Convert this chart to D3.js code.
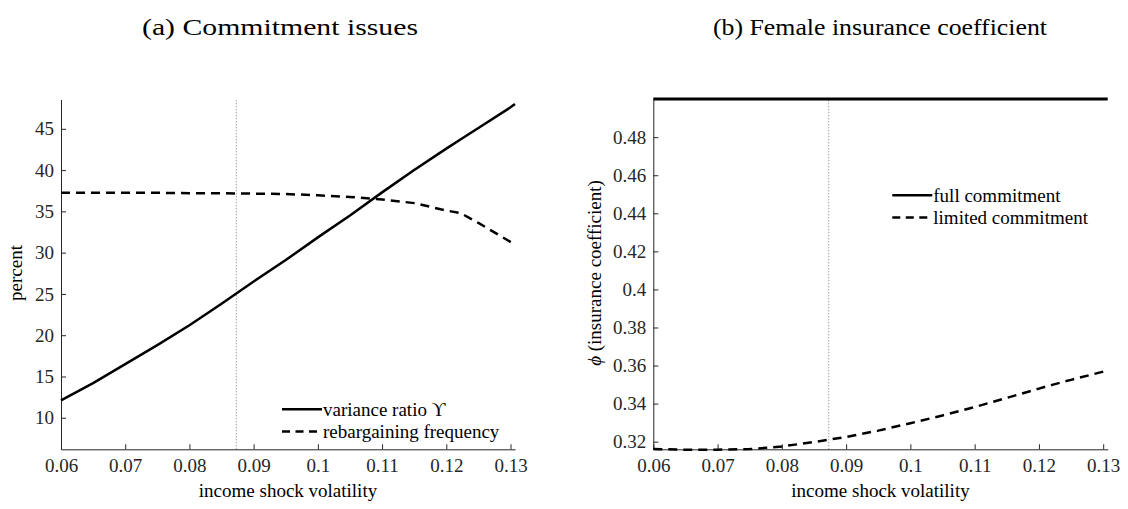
<!DOCTYPE html>
<html><head><meta charset="utf-8">
<script src="https://cdn.jsdelivr.net/npm/d3@7/dist/d3.min.js"></script>
<style>
body{margin:0;background:#fff;}
svg text{font-family:'Liberation Serif','Times New Roman',serif;}
</style></head>
<body><svg id="c" width="1128" height="509"></svg>
<script>
// ---- data ----
const xVol = [0.06,0.065,0.07,0.075,0.08,0.085,0.09,0.095,0.1,0.105,0.11,0.115,0.12,0.1222,0.125,0.13,0.1307];
const varianceRatio = [12.1,14.2,16.5,18.8,21.2,23.8,26.5,29.1,31.85,34.5,37.3,40.0,42.6,43.7,45.1,47.6,48.0];
const rebargFreq = [37.25,37.25,37.25,37.25,37.2,37.2,37.15,37.1,36.95,36.75,36.45,36.0,35.1,34.8,33.6,31.3,31.0];
const fullCommit = [0.5,0.5,0.5,0.5,0.5,0.5,0.5,0.5,0.5,0.5,0.5,0.5,0.5,0.5,0.5,0.5,0.5];
const limitedCommit = [0.3162,0.3158,0.3158,0.3161,0.3175,0.3198,0.3225,0.3258,0.3297,0.3338,0.3382,0.343,0.3479,0.35,0.3525,0.3568,0.3573];
const xTicks = [0.06,0.07,0.08,0.09,0.1,0.11,0.12,0.13];
const xTickLabels = ["0.06","0.07","0.08","0.09","0.1","0.11","0.12","0.13"];
const yTicksA = [10,15,20,25,30,35,40,45];
const yTicksB = [0.32,0.34,0.36,0.38,0.4,0.42,0.44,0.46,0.48];
const yTickLabelsB = ["0.32","0.34","0.36","0.38","0.4","0.42","0.44","0.46","0.48"];
const baselineVol = 0.0873;
const titles = ["(a) Commitment issues","(b) Female insurance coefficient"];
const legendA = ["variance ratio \u03D2","rebargaining frequency"];
const legendB = ["full commitment","limited commitment"];

const svg = d3.select("#c");
const axisCol = "#262626";
const fs = 19;
const FF = "'Liberation Serif','Times New Roman',serif";

function panel(cfg){
  const g = svg.append("g");
  const x = d3.scaleLinear().domain([0.06,0.1307]).range([cfg.x0,cfg.x1]);
  const y = d3.scaleLinear().domain(cfg.yDom).range([449.3,99.5]);
  // dotted reference
  g.append("line").attr("x1",x(baselineVol)).attr("x2",x(baselineVol))
    .attr("y1",y.range()[0]).attr("y2",y.range()[1])
    .attr("stroke","#555").attr("stroke-width",0.8).attr("stroke-dasharray","1,2");
  // axes
  const xa = d3.axisBottom(x).tickValues(xTicks).tickFormat((d,i)=>xTickLabels[i]).tickSizeInner(-5).tickSizeOuter(0).tickPadding(14);
  const ya = d3.axisLeft(y).tickValues(cfg.yTicks).tickFormat((d,i)=>cfg.yLabels[i]).tickSizeInner(-5).tickSizeOuter(0).tickPadding(7);
  const gx = g.append("g").attr("transform",`translate(0,${y.range()[0]})`).call(xa);
  const gy = g.append("g").attr("transform",`translate(${cfg.x0},0)`).call(ya);
  [gx,gy].forEach(a=>{
    a.attr("font-family",FF).attr("font-size",fs);
    a.select(".domain").attr("stroke",axisCol).attr("stroke-width",1);
    a.selectAll(".tick line").attr("stroke",axisCol).attr("stroke-width",1);
    a.selectAll(".tick text").attr("fill",axisCol);
  });
  gx.selectAll(".tick text").attr("dy","0.71em").attr("y",9);
  // lines
  const line = v => d3.line().x((d,i)=>x(xVol[i])).y(d=>y(d))(v);
  g.append("path").attr("d",line(cfg.s1)).attr("fill","none").attr("stroke","#000").attr("stroke-width",cfg.w1||2.5);
  g.append("path").attr("d",line(cfg.s2)).attr("fill","none").attr("stroke","#000").attr("stroke-width",2.5).attr("stroke-dasharray","9,6");
  // labels
  g.append("text").attr("x",(cfg.x0+cfg.x1)/2).attr("y",497).attr("text-anchor","middle")
    .attr("font-family",FF).attr("font-size",fs).attr("fill","#000").text("income shock volatility");
  const yl = g.append("text").attr("transform",`translate(${cfg.ylx},${cfg.yly}) rotate(-90)`).attr("text-anchor","middle")
    .attr("font-family",FF).attr("font-size",fs).attr("fill","#000");
  if(cfg.phi){ yl.append("tspan").style("font-style","italic").text("\u03D5"); yl.append("tspan").text(" (insurance coefficient)"); }
  else yl.text(cfg.ylabel);
  // title
  svg.append("text").attr("x",cfg.tx).attr("y",35).attr("text-anchor","middle")
    .attr("font-family",FF).attr("font-size",24).attr("fill","#000")
    .attr("textLength",cfg.tw).attr("lengthAdjust","spacingAndGlyphs").text(cfg.title);
  // legend
  cfg.leg.forEach((t,i)=>{
    const ly = cfg.ly + i*22.3;
    g.append("line").attr("x1",cfg.lx).attr("x2",cfg.lx+40).attr("y1",ly).attr("y2",ly)
      .attr("stroke","#000").attr("stroke-width",2.5).attr("stroke-dasharray",i?"8,5.5":null);
    g.append("text").attr("x",cfg.lx+41).attr("y",ly).attr("dy","0.33em")
      .attr("font-family",FF).attr("font-size",fs).attr("fill","#000").text(t);
  });
}

panel({x0:61,x1:515,yDom:[6.18,48.55],yTicks:yTicksA,yLabels:yTicksA.map(String),s1:varianceRatio,s2:rebargFreq,
  ylx:22,yly:273,ylabel:"percent",title:titles[0],tx:280,tw:276,leg:legendA,lx:282,ly:409.3});
panel({x0:653.3,x1:1107.7,yDom:[0.316,0.4998],yTicks:yTicksB,yLabels:yTickLabelsB,s1:fullCommit,s2:limitedCommit,w1:3,
  ylx:601,yly:273,phi:true,title:titles[1],tx:880,tw:334,leg:legendB,lx:892.3,ly:195.3});
</script></body></html>
